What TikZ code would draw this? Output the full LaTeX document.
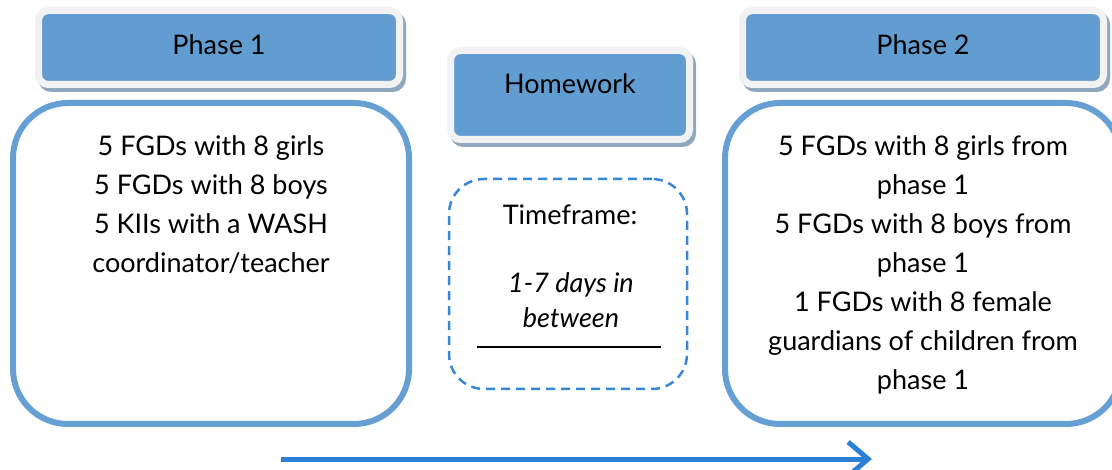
\documentclass[tikz,border=0pt]{standalone}
\usepackage{fontspec}
\setmainfont{Lato}
\usepackage{tikz}
\usetikzlibrary{positioning,shadows,arrows.meta}
\definecolor{headblue}{RGB}{98,157,210}
\definecolor{headrim}{RGB}{242,242,242}
\definecolor{headshadow}{RGB}{143,168,192}
\definecolor{bodyblue}{RGB}{102,159,212}
\definecolor{dashblue}{RGB}{55,135,215}
\definecolor{arrowblue}{RGB}{43,127,212}
\tikzstyle{phase_head}=[rectangle, rounded corners=10pt, fill=headblue, draw=headrim, line width=7pt, drop shadow={shadow xshift=3pt, shadow yshift=-4pt, fill=headshadow, draw=headshadow, line width=7pt, opacity=1}, font=\fontsize{27}{30}\selectfont]
\tikzstyle{phase_body}=[rectangle, rounded corners=55pt, draw=bodyblue, line width=6pt, minimum width=396pt, minimum height=321pt]
\tikzstyle{body_text}=[align=center, inner sep=0pt, font=\fontsize{27}{39}\selectfont]
\tikzstyle{gap_box}=[rectangle, rounded corners=35pt, draw=dashblue, line width=2.5pt, dash pattern=on 9pt off 6pt, minimum width=238pt, minimum height=210pt]
\tikzstyle{time_arrow}=[-{Straight Barb[length=20pt, width=34pt]}, draw=arrowblue, line width=5pt]

\begin{document}
\begin{tikzpicture}[x=1pt, y=-1pt]
        \useasboundingbox (0, 0) rectangle (1112, 470);
        \node [style={phase_head}, minimum width=361pt, minimum height=74pt, text depth=6pt] (0) at (219, 47.5) {Phase 1};
        \node [style={phase_head}, minimum width=239pt, minimum height=89pt, text depth=23pt] (1) at (570, 95) {Homework};
        \node [style={phase_head}, minimum width=361pt, minimum height=74pt, text depth=6pt] (2) at (923, 47.5) {Phase 2};
        \node [style={phase_body}] (3) at (211, 263.5) {};
        \node [style={gap_box}] (4) at (568, 284) {};
        \node [style={phase_body}] (5) at (923, 263.5) {};
        \node [style={body_text}, below=35pt of 3.north] (6) {5 FGDs with 8 girls\\5 FGDs with 8 boys\\5 KIIs with a WASH\\coordinator/teacher};
        \node [style={body_text}, below=35pt of 5.north] (7) {5 FGDs with 8 girls from\\phase 1\\5 FGDs with 8 boys from\\phase 1\\1 FGDs with 8 female\\guardians of children from\\phase 1};
        \node [style={body_text}] (8) at (570, 215) {Timeframe:};
        \node [style={body_text}, font=\fontsize{27}{35}\selectfont\itshape] (9) at (571, 300) {1-7 days in\\between};
        \coordinate (10) at (477, 347);
        \coordinate (11) at (661, 347);
        \draw [line width=1.5pt] (10) to (11);
        \coordinate (12) at (281, 459);
        \coordinate (13) at (872, 459);
        \draw [style={time_arrow}] (12) to (13);
    \end{tikzpicture}
\end{document}
